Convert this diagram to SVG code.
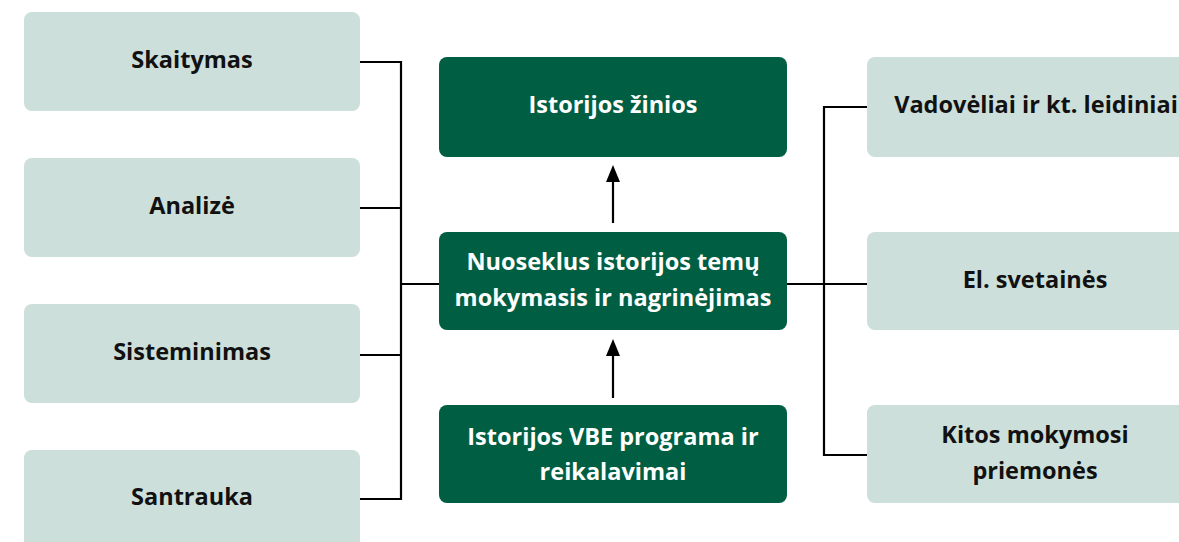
<svg xmlns="http://www.w3.org/2000/svg" width="1179" height="542" viewBox="0 0 1179 542">
<style>
.light{fill:#CCDFDA}
.dark{fill:#005E43}
.t{font-family:"Open Sans","Noto Sans","DejaVu Sans",sans-serif;font-weight:700;font-size:23.5px;text-anchor:middle}
.tl{fill:#111111}
.td{fill:#FFFFFF}
.c{fill:none;stroke:#000;stroke-width:2.2}
.ah{fill:#000}
</style>
<rect width="1179" height="542" fill="#FFFFFF"/>
<g id="connectors">
<path class="c" d="M360,62 H401 V499 H360"/>
<path class="c" d="M360,208 H401"/>
<path class="c" d="M360,355 H401"/>
<path class="c" d="M401,284 H439"/>
<path class="c" d="M787,284 H867"/>
<path class="c" d="M867,107 H824 V455 H867"/>
<line class="c" x1="613" y1="223" x2="613" y2="178"/>
<polygon class="ah" points="613,165 620,182 606,182"/>
<line class="c" x1="613" y1="398" x2="613" y2="352"/>
<polygon class="ah" points="613,339 620,356 606,356"/>
</g>
<g id="skaitymas"><rect class="light" x="24" y="12" width="336" height="99" rx="8"/><text class="t tl" x="192" y="68">Skaitymas</text></g>
<g id="analize"><rect class="light" x="24" y="158" width="336" height="99" rx="8"/><text class="t tl" x="192" y="214">Analizė</text></g>
<g id="sisteminimas"><rect class="light" x="24" y="304" width="336" height="99" rx="8"/><text class="t tl" x="192" y="360">Sisteminimas</text></g>
<g id="santrauka"><rect class="light" x="24" y="450" width="336" height="99" rx="8"/><text class="t tl" x="192" y="505">Santrauka</text></g>
<g id="istorijos-zinios"><rect class="dark" x="439" y="57" width="348" height="100" rx="8"/><text class="t td" x="613" y="113">Istorijos žinios</text></g>
<g id="nuoseklus"><rect class="dark" x="439" y="232" width="348" height="98" rx="8"/><text class="t td" x="613" y="270">Nuoseklus istorijos temų</text><text class="t td" x="613" y="306">mokymasis ir nagrinėjimas</text></g>
<g id="vbe"><rect class="dark" x="439" y="405" width="348" height="98" rx="8"/><text class="t td" x="613" y="445">Istorijos VBE programa ir</text><text class="t td" x="613" y="480">reikalavimai</text></g>
<g id="vadoveliai"><rect class="light" x="867" y="57" width="336" height="100" rx="8"/><text class="t tl" x="1036" y="113">Vadovėliai ir kt. leidiniai</text></g>
<g id="svetaines"><rect class="light" x="867" y="232" width="336" height="98" rx="8"/><text class="t tl" x="1035" y="288">El. svetainės</text></g>
<g id="kitos"><rect class="light" x="867" y="405" width="336" height="98" rx="8"/><text class="t tl" x="1035" y="443">Kitos mokymosi</text><text class="t tl" x="1035" y="479">priemonės</text></g>
</svg>
